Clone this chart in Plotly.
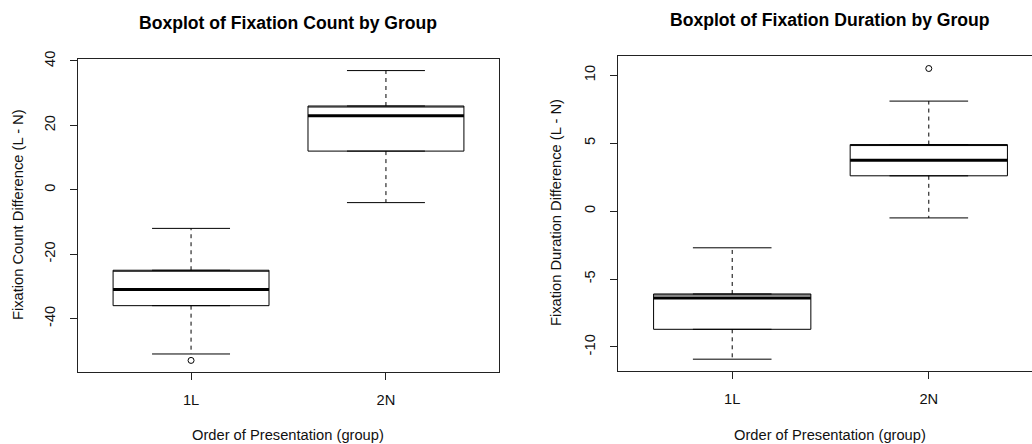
import plotly.graph_objects as go

# ---- data ----
groups = ["1L", "2N"]
group_pos = [1, 2]

count_lower = [-51, -4]
count_q1 = [-36, 12]
count_median = [-31, 23]
count_q3 = [-25, 26]
count_upper = [-12, 37]
count_out_x = [1]
count_out_y = [-53]

dur_lower = [-10.9, -0.5]
dur_q1 = [-8.7, 2.6]
dur_median = [-6.4, 3.75]
dur_q3 = [-6.1, 4.9]
dur_upper = [-2.7, 8.1]
dur_out_x = [2]
dur_out_y = [10.5]

count_yticks = [-40, -20, 0, 20, 40]
dur_yticks = [-10, -5, 0, 5, 10]

W = 1032
H = 444
FONT = "Liberation Sans, Arial, sans-serif"
BOXW = 0.8
CAPW = 0.4
TXT = 14.7
TITLE = 17.6

fig = go.Figure()


def add_boxplot(xa, ya, lower, q1, med, q3, upper, ox, oy):
    # box body
    fig.add_trace(go.Box(
        x=group_pos, q1=q1, median=q3, q3=q3, lowerfence=q1, upperfence=q3,
        width=BOXW, fillcolor="white", line=dict(color="black", width=1),
        xaxis=xa, yaxis=ya, showlegend=False, hoverinfo="skip", boxpoints=False))
    # dashed whiskers
    wx, wy = [], []
    for p, lo, a, b, hi in zip(group_pos, lower, q1, q3, upper):
        wx += [p, p, None, p, p, None]
        wy += [b, hi, None, a, lo, None]
    fig.add_trace(go.Scatter(x=wx, y=wy, mode="lines", xaxis=xa, yaxis=ya,
                             line=dict(color="black", width=1, dash="4px,4px"),
                             showlegend=False, hoverinfo="skip"))
    # caps
    cx, cy = [], []
    for p, lo, hi in zip(group_pos, lower, upper):
        cx += [p - CAPW / 2, p + CAPW / 2, None, p - CAPW / 2, p + CAPW / 2, None]
        cy += [hi, hi, None, lo, lo, None]
    fig.add_trace(go.Scatter(x=cx, y=cy, mode="lines", xaxis=xa, yaxis=ya,
                             line=dict(color="black", width=1),
                             showlegend=False, hoverinfo="skip"))
    # thick medians
    mx, my = [], []
    for p, m in zip(group_pos, med):
        mx += [p - BOXW / 2, p + BOXW / 2, None]
        my += [m, m, None]
    fig.add_trace(go.Scatter(x=mx, y=my, mode="lines", xaxis=xa, yaxis=ya,
                             line=dict(color="black", width=3),
                             showlegend=False, hoverinfo="skip"))
    # outliers
    fig.add_trace(go.Scatter(x=ox, y=oy, mode="markers", xaxis=xa, yaxis=ya,
                             marker=dict(symbol="circle-open", size=6,
                                         color="black", line=dict(width=1)),
                             showlegend=False, hoverinfo="skip"))


add_boxplot("x", "y", count_lower, count_q1, count_median, count_q3,
            count_upper, count_out_x, count_out_y)
add_boxplot("x2", "y2", dur_lower, dur_q1, dur_median, dur_q3,
            dur_upper, dur_out_x, dur_out_y)

tick_font = dict(family=FONT, size=TXT, color="#111")
axis_common = dict(showgrid=False, zeroline=False, showline=True,
                   linecolor="#222", linewidth=1, ticks="outside",
                   ticklen=7, tickcolor="#222", tickfont=tick_font,
                   automargin=False)

fig.update_layout(
    template="none",
    width=W, height=H,
    margin=dict(l=0, r=0, t=0, b=0, pad=0, autoexpand=False),
    paper_bgcolor="white", plot_bgcolor="white",
    showlegend=False,
    xaxis=dict(domain=[78 / W, 499 / W], range=[0.42, 2.58],
               tickvals=group_pos, ticktext=groups, mirror=True,
               ticklabelstandoff=7, anchor="y", **axis_common),
    yaxis=dict(domain=[(H - 372) / H, (H - 59) / H], range=[-56.6, 40.6],
               tickvals=count_yticks, ticktext=[str(v) for v in count_yticks],
               tickangle=-90, mirror=True,
               ticklabelstandoff=9, anchor="x", **axis_common),
    xaxis2=dict(domain=[618 / W, 1.0], range=[0.419, 2.525],
                tickvals=group_pos, ticktext=groups, mirror=True,
                ticklabelstandoff=7, anchor="y2", **axis_common),
    yaxis2=dict(domain=[(H - 371) / H, (H - 56) / H], range=[-11.77, 11.42],
                tickvals=dur_yticks, ticktext=[str(v) for v in dur_yticks],
                tickangle=-90, mirror=False,
                ticklabelstandoff=9, anchor="x2", **axis_common),
)


def ann(text, px, py, size=TXT, bold=False, angle=0):
    fig.add_annotation(
        text=f"<b>{text}</b>" if bold else text,
        x=px / W, y=1 - py / H, xref="paper", yref="paper",
        xanchor="center", yanchor="middle", showarrow=False, textangle=angle,
        font=dict(family=FONT, size=size, color="black" if bold else "#111"))


ann("Boxplot of Fixation Count by Group", 288, 23, size=TITLE, bold=True)
ann("Boxplot of Fixation Duration by Group", 830, 20, size=TITLE, bold=True)
ann("Order of Presentation (group)", 288, 435)
ann("Order of Presentation (group)", 830, 435)
ann("Fixation Count Difference (L - N)", 18, 215, angle=-90)
ann("Fixation Duration Difference (L - N)", 556, 213, angle=-90)

fig.write_html("out.html")
